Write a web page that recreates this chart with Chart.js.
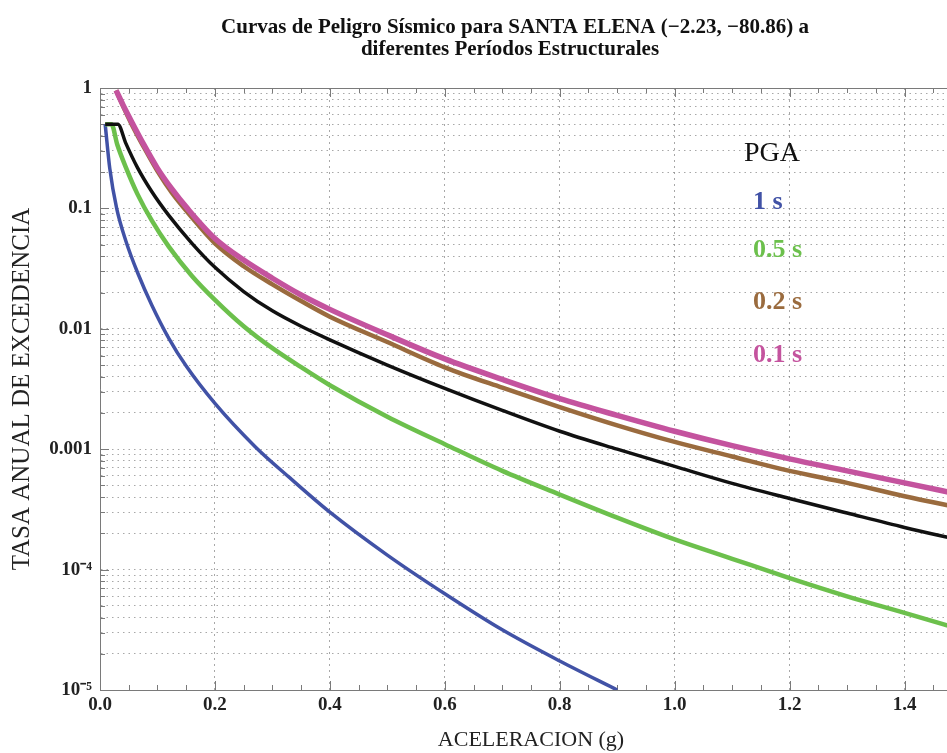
<!DOCTYPE html>
<html><head><meta charset="utf-8">
<script src="https://cdn.jsdelivr.net/npm/chart.js@4.4.1/dist/chart.umd.min.js"></script>
<style>html,body{margin:0;padding:0;background:#fff;overflow:hidden;width:947px;height:753px}canvas{display:block}</style>
</head><body>
<canvas id="c" width="975" height="753"></canvas>
<script>
const titleLines = ['Curvas de Peligro Sísmico para SANTA ELENA (\u22122.23, \u221280.86) a', 'diferentes Períodos Estructurales'];
const xTitle = 'ACELERACION (g)';
const yTitle = 'TASA ANUAL DE EXCEDENCIA';
const xTickLabels = ['0.0','0.2','0.4','0.6','0.8','1.0','1.2','1.4'];
const yTickLabels = ['1','0.1','0.01','0.001','10\u207B\u2074','10\u207B\u2075'];
const yDecades = [1, 0.1, 0.01, 0.001, 1e-4, 1e-5];

const seriesLabels = ['PGA','1 s','0.5 s','0.2 s','0.1 s'];
const seriesColors = ['#111111','#4152a6','#6cc04c','#9a6b3e','#c4539e'];

// PGA (black)
const accPGA  = [0.009,0.031,0.045,0.065,0.09,0.12,0.16,0.2,0.25,0.3,0.35,0.4,0.5,0.6,0.7,0.8,0.9,1.0,1.1,1.2,1.3,1.4,1.5];
const ratePGA = [0.5,0.5,0.347,0.219,0.138,0.087,0.0513,0.0324,0.0204,0.0141,0.0105,0.0081,0.005,0.0032,0.0021,0.00141,0.001,0.00072,0.00052,0.00039,0.000295,0.000224,0.000174];
// 1 s (blue)
const acc1s  = [0.009,0.017,0.029,0.045,0.066,0.09,0.12,0.15,0.2,0.27,0.33,0.4,0.5,0.6,0.7,0.8,0.9];
const rate1s = [0.5,0.215,0.1,0.0537,0.0288,0.0158,0.0083,0.0049,0.0024,0.00105,0.00058,0.0003,0.000132,0.000063,0.0000316,0.0000174,0.00001];
// 0.5 s (green)
const acc05s  = [0.009,0.02,0.03,0.045,0.065,0.09,0.12,0.16,0.2,0.25,0.3,0.35,0.4,0.5,0.6,0.7,0.8,0.9,1.0,1.1,1.2,1.3,1.4,1.5];
const rate05s = [0.5,0.5,0.339,0.219,0.132,0.0794,0.0479,0.0275,0.0174,0.0105,0.0069,0.0048,0.0034,0.00186,0.0011,0.00066,0.00042,0.00027,0.000178,0.000123,0.000085,0.00006,0.0000437,0.0000316];
// 0.2 s (brown) and 0.1 s (magenta)
const accShort = [0.028,0.04,0.055,0.075,0.1,0.125,0.152,0.2,0.25,0.3,0.35,0.4,0.5,0.6,0.7,0.8,0.9,1.0,1.1,1.2,1.3,1.4,1.5];
const rate02s = [0.955,0.708,0.501,0.331,0.204,0.135,0.0933,0.0513,0.0331,0.0234,0.017,0.0126,0.00776,0.00479,0.00324,0.00224,0.00158,0.00115,0.00087,0.00066,0.000525,0.000407,0.000324];
const rate01s = [0.955,0.724,0.525,0.347,0.215,0.145,0.1,0.0562,0.0372,0.0263,0.0191,0.0145,0.00891,0.00562,0.0038,0.00263,0.00191,0.00141,0.00107,0.000832,0.000661,0.000525,0.000417];

const pts = (xs, ys) => xs.map((x, i) => ({x: x, y: ys[i]}));
const seriesData = [pts(accPGA, ratePGA), pts(acc1s, rate1s), pts(acc05s, rate05s), pts(accShort, rate02s), pts(accShort, rate01s)];
const widths = [3.5, 3.5, 4.5, 4.5, 5.5];
const drawOrder = [2, 4, 3, 1, 0];

const isDecade = v => yDecades.some(d => Math.abs(v / d - 1) < 1e-6);
const isMajorX = v => Math.abs(v / 0.2 - Math.round(v / 0.2)) < 1e-6;
const SERIF = '"Liberation Serif", "Times New Roman", serif';

const decor = {
  id: 'decor',
  beforeDatasetsDraw(chart) {
    const {ctx, chartArea: a, scales: {x, y}} = chart;
    ctx.save();
    ctx.strokeStyle = '#7a7a7a';
    ctx.lineWidth = 1;
    ctx.beginPath();
    x.ticks.forEach(t => {
      const px = Math.round(x.getPixelForValue(t.value)) + 0.5;
      const L = isMajorX(t.value) ? 9 : 5;
      ctx.moveTo(px, a.bottom); ctx.lineTo(px, a.bottom - L);
      ctx.moveTo(px, a.top); ctx.lineTo(px, a.top + L);
    });
    y.ticks.forEach(t => {
      const py = Math.round(y.getPixelForValue(t.value)) + 0.5;
      const L = isDecade(t.value) ? 9 : 5;
      ctx.moveTo(a.left, py); ctx.lineTo(a.left + L, py);
    });
    ctx.moveTo(a.left, Math.round(a.top) + 0.5); ctx.lineTo(a.right, Math.round(a.top) + 0.5);
    ctx.stroke();
    ctx.restore();
  },
  afterDraw(chart) {
    const {ctx} = chart;
    ctx.save();
    ctx.fillStyle = '#111';
    ctx.textAlign = 'center';
    ctx.textBaseline = 'middle';
    ctx.font = 'bold 21px ' + SERIF;
    ctx.fillText(titleLines[0], 515, 28);
    ctx.fillText(titleLines[1], 510, 50);
    // legend
    ctx.font = '28px ' + SERIF;
    ctx.fillStyle = seriesColors[0];
    ctx.fillText(seriesLabels[0], 772, 154);
    ctx.textAlign = 'left';
    ctx.font = 'bold 26px ' + SERIF;
    const ly = [202, 250, 302, 355];
    for (let i = 1; i < seriesLabels.length; i++) {
      ctx.fillStyle = seriesColors[i];
      ctx.fillText(seriesLabels[i], 753, ly[i - 1]);
    }
    ctx.restore();
  }
};

new Chart(document.getElementById('c'), {
  type: 'line',
  data: {
    datasets: seriesLabels.map((lab, i) => ({
      label: lab,
      data: seriesData[i],
      borderColor: seriesColors[i],
      backgroundColor: seriesColors[i],
      borderWidth: widths[i],
      pointRadius: 0,
      fill: false,
      cubicInterpolationMode: 'monotone',
      order: drawOrder[i]
    }))
  },
  options: {
    responsive: false,
    animation: false,
    layout: {padding: {top: 88, right: 13, left: 0, bottom: 0}},
    plugins: {legend: {display: false}, title: {display: false}, tooltip: {enabled: false}},
    scales: {
      x: {
        type: 'linear', min: 0, max: 1.5,
        afterFit: s => { s.height = 63; },
        ticks: {
          stepSize: 0.05, autoSkip: false, maxRotation: 0, minRotation: 0, padding: 4,
          color: '#222', font: {family: SERIF, size: 19, weight: 'bold'},
          callback: v => isMajorX(v) ? xTickLabels[Math.round(v / 0.2)] : ''
        },
        grid: {
          drawTicks: false, lineWidth: 1,
          color: c => (c.tick && isMajorX(c.tick.value)) ? 'rgba(110,110,110,0.6)' : 'rgba(0,0,0,0)'
        },
        border: {display: true, color: '#7a7a7a', width: 1, dash: [2, 4]},
        title: {display: true, text: xTitle, color: '#222', font: {family: SERIF, size: 22}, padding: {top: 0, bottom: 0}}
      },
      y: {
        type: 'logarithmic', min: 1e-5, max: 1,
        afterFit: s => { s.width = 100; },
        afterBuildTicks: s => {
          const t = [];
          yDecades.slice().reverse().forEach(d => {
            for (let m = 1; m <= 9; m++) { const v = d * m; if (v <= 1 + 1e-9) t.push({value: v}); }
          });
          s.ticks = t;
        },
        ticks: {
          autoSkip: false, padding: 8, color: '#222', font: {family: SERIF, size: 19, weight: 'bold'},
          callback: v => { const i = yDecades.findIndex(d => Math.abs(v / d - 1) < 1e-6); return i >= 0 ? yTickLabels[i] : ''; }
        },
        grid: {drawTicks: false, lineWidth: 1, color: 'rgba(110,110,110,0.6)'},
        border: {display: true, color: '#7a7a7a', width: 1, dash: [1.5, 4]},
        title: {display: true, text: yTitle, color: '#222', font: {family: SERIF, size: 25}, padding: {top: 7, bottom: 0}}
      }
    }
  },
  plugins: [decor]
});
</script>
</body></html>
